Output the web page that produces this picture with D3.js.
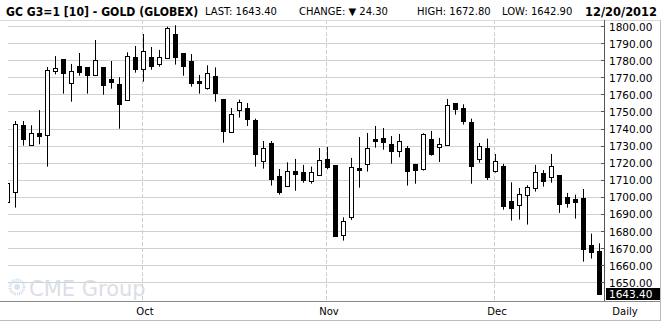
<!DOCTYPE html>
<html>
<head>
<meta charset="utf-8">
<script src="https://d3js.org/d3.v7.min.js"></script>
<style>
  body { margin: 0; background: #fff; }
  svg { display: block; }
  text { font-family: "DejaVu Sans", Verdana, sans-serif; }
</style>
</head>
<body>
<svg width="661" height="322"></svg>
<script>
// trading days shown (Sep 6 - Dec 20, 2012)
const dates = [
  "09-06","09-07","09-10","09-11","09-12","09-13","09-14","09-17","09-18","09-19","09-20","09-21",
  "09-24","09-25","09-26","09-27","09-28",
  "10-01","10-02","10-03","10-04","10-05","10-08","10-09","10-10","10-11","10-12","10-15","10-16",
  "10-17","10-18","10-19","10-22","10-23","10-24","10-25","10-26","10-29","10-30","10-31",
  "11-01","11-02","11-05","11-06","11-07","11-08","11-09","11-12","11-13","11-14","11-15","11-16",
  "11-19","11-20","11-21","11-23","11-26","11-27","11-28","11-29","11-30",
  "12-03","12-04","12-05","12-06","12-07","12-10","12-11","12-12","12-13","12-14","12-17","12-18",
  "12-19","12-20"
];
const open = [
  1696.8,1702.5,1741.9,1730.2,1737.2,1736.0,1773.5,1780.5,1766.5,1776.6,1776.0,1771.1,
  1776.0,1769.0,1766.1,1756.5,1781.9,
  1774.6,1781.9,1777.6,1781.1,1795.3,1784.2,1779.5,1767.8,1763.3,1770.7,1757.3,1737.8,
  1750.7,1752.0,1745.2,1720.8,1731.5,1712.2,1706.2,1715.2,1714.6,1709.1,1712.6,
  1722.0,1718.5,1677.5,1688.0,1716.9,1719.1,1733.9,1734.5,1730.8,1726.5,1728.6,1719.3,
  1716.1,1733.9,1729.4,1730.2,1754.7,1751.8,1743.6,1722.0,1728.6,
  1715.0,1718.1,1697.4,1695.1,1700.9,1705.0,1713.8,1711.4,1712.8,1699.7,1698.8,1699.4,
  1671.9,1668.5
];
const high = [
  1709.0,1744.4,1744.4,1741.9,1750.8,1776.0,1782.4,1780.5,1777.8,1784.2,1776.0,1791.8,
  1776.0,1779.5,1770.0,1784.6,1788.3,
  1795.3,1787.7,1786.0,1799.6,1800.4,1784.2,1783.6,1771.3,1777.0,1775.8,1757.3,1752.0,
  1756.9,1754.9,1745.8,1732.7,1732.7,1716.3,1720.2,1722.2,1718.7,1717.7,1728.6,
  1729.2,1718.5,1688.0,1722.8,1735.0,1737.4,1741.5,1740.3,1735.6,1736.8,1729.8,1719.3,
  1737.2,1738.6,1734.5,1757.3,1754.7,1754.2,1745.8,1731.5,1734.1,
  1725.1,1719.3,1708.5,1705.2,1706.8,1718.7,1715.7,1725.1,1712.8,1702.3,1701.3,1704.6,
  1678.5,1672.8
];
const low = [
  1694.0,1693.7,1730.0,1730.0,1730.8,1717.7,1771.7,1760.4,1755.7,1770.9,1760.4,1771.1,
  1759.8,1763.3,1739.9,1756.3,1772.7,
  1767.4,1774.4,1776.2,1781.0,1777.4,1770.9,1764.5,1760.4,1762.7,1755.7,1731.7,1737.6,
  1746.4,1741.5,1717.7,1716.5,1706.6,1701.3,1706.0,1703.6,1708.3,1707.7,1712.4,
  1716.1,1676.7,1674.4,1686.5,1705.4,1714.8,1728.8,1727.6,1719.4,1723.2,1706.6,1707.7,
  1715.4,1724.1,1720.4,1730.0,1748.1,1742.3,1707.7,1720.0,1709.9,
  1714.2,1692.5,1686.1,1686.7,1683.8,1703.1,1706.0,1708.3,1690.6,1693.7,1687.3,1662.1,
  1663.9,1642.9
];
const close = [
  1707.9,1742.5,1733.7,1737.2,1735.4,1774.1,1775.2,1772.3,1773.5,1773.3,1771.5,1779.9,
  1765.7,1767.4,1754.6,1782.3,1775.0,
  1785.2,1776.8,1781.9,1798.8,1782.1,1776.8,1766.5,1766.5,1772.3,1761.0,1738.8,1748.3,
  1755.3,1745.8,1725.3,1728.6,1710.7,1703.1,1715.0,1713.2,1710.1,1714.6,1721.4,
  1717.1,1676.7,1685.7,1717.5,1715.5,1728.6,1732.5,1732.3,1726.5,1732.5,1715.4,1715.9,
  1736.6,1725.3,1731.0,1753.6,1751.2,1744.2,1717.7,1729.6,1711.8,
  1720.8,1694.9,1693.1,1701.5,1705.6,1714.4,1708.9,1718.1,1696.0,1696.0,1697.2,1669.7,
  1667.7,1643.4
];
const priceTicks = [1800,1790,1780,1770,1760,1750,1740,1730,1720,1710,1700,1690,1680,1670,1660,1650];
const months = [["10-01","Oct"],["11-01","Nov"],["12-03","Dec"]];
const last = 1643.40;

const svg = d3.select('svg');
const plot = {left: 8, right: 604, top: 20, bottom: 301};

const x = d3.scaleBand().domain(dates).range([2.8, 602.8]).padding(0);
const y = d3.scaleLinear().domain([1650, 1800]).range([282.3, 26]);
const cx = d => Math.round(x(d) + x.bandwidth() / 2);

// header
const head = svg.append('g').attr('fill', '#000');
head.append('g').attr('transform', 'translate(6,16) scale(0.84,1)')
  .append('text').attr('font-size', 13).attr('font-weight', 'bold')
  .attr('font-family', 'Liberation Sans, Arial, sans-serif')
  .text('GC G3=1 [10] - GOLD (GLOBEX)');
const items = [[205, 'LAST: 1643.40'], [299, 'CHANGE: \u25BC 24.30'], [417, 'HIGH: 1672.80'], [502, 'LOW: 1642.90']];
items.forEach(([px, t]) => {
  head.append('text').attr('x', px).attr('y', 15).attr('font-size', 10)
    .attr('font-family', 'Liberation Sans, Arial, sans-serif').text(t);
});
head.append('g').attr('transform', 'translate(585,16) scale(0.88,1)')
  .append('text').attr('font-size', 13).attr('font-weight', 'bold')
  .attr('font-family', 'Liberation Sans, Arial, sans-serif')
  .text('12/20/2012');

// clip
svg.append('clipPath').attr('id', 'clip').append('rect')
  .attr('x', plot.left).attr('y', plot.top).attr('width', plot.right - plot.left).attr('height', plot.bottom - plot.top);

// grid
const grid = svg.append('g');
grid.selectAll('line.h').data(priceTicks).enter().append('line')
  .attr('x1', plot.left).attr('x2', plot.right)
  .attr('y1', d => Math.round(y(d)) + 0.5).attr('y2', d => Math.round(y(d)) + 0.5)
  .attr('stroke', '#cdd3cd').attr('stroke-width', 1);
grid.selectAll('line.v').data(months).enter().append('line')
  .attr('x1', d => cx(d[0]) - 0.5).attr('x2', d => cx(d[0]) - 0.5)
  .attr('y1', plot.top).attr('y2', plot.bottom)
  .attr('stroke', '#cfcfcf').attr('stroke-dasharray', '4,2');

// watermark
const wm = svg.append('g').attr('opacity', 0.9);
wm.append('circle').attr('cx', 17).attr('cy', 287).attr('r', 7)
  .attr('fill', 'none').attr('stroke', '#cbd9e8').attr('stroke-width', 3).attr('stroke-dasharray', '1,1');
wm.append('circle').attr('cx', 17).attr('cy', 287).attr('r', 3).attr('fill', '#d6e2ee');
wm.append('text').attr('x', 29).attr('y', 296).attr('font-size', 21)
  .attr('font-family', 'Liberation Sans, Arial, sans-serif')
  .attr('fill', '#d6dce4').text('CME Group');

// candles
const idx = d3.range(dates.length);
const candles = svg.append('g').attr('clip-path', 'url(#clip)');
const c = candles.selectAll('g').data(idx).enter().append('g');
c.append('line')
  .attr('x1', i => cx(dates[i]) + 0.5).attr('x2', i => cx(dates[i]) + 0.5)
  .attr('y1', i => y(high[i])).attr('y2', i => y(low[i]))
  .attr('stroke', '#000').attr('stroke-width', 1);
c.append('rect')
  .attr('x', i => cx(dates[i]) - 1.5)
  .attr('width', 4)
  .attr('y', i => Math.round(y(Math.max(open[i], close[i]))) + 0.5)
  .attr('height', i => Math.max(1, Math.round(Math.abs(y(open[i]) - y(close[i])))))
  .attr('fill', i => close[i] >= open[i] ? '#fff' : '#000')
  .attr('stroke', '#000').attr('stroke-width', 1);

// frame
svg.append('line').attr('x1', 0).attr('x2', 661).attr('y1', plot.top + 0.5).attr('y2', plot.top + 0.5)
  .attr('stroke', '#d8d8d8');
svg.append('line').attr('x1', plot.right + 0.5).attr('x2', plot.right + 0.5).attr('y1', plot.top).attr('y2', plot.bottom)
  .attr('stroke', '#555');
svg.append('line').attr('x1', 0).attr('x2', 661).attr('y1', plot.bottom + 0.5).attr('y2', plot.bottom + 0.5)
  .attr('stroke', '#888');
svg.append('line').attr('x1', 0).attr('x2', 661).attr('y1', 320.5).attr('y2', 320.5)
  .attr('stroke', '#bbb');
svg.append('line').attr('x1', 660.5).attr('x2', 660.5).attr('y1', plot.top).attr('y2', 321)
  .attr('stroke', '#bbb');

// right axis
const ax = svg.append('g');
ax.selectAll('line').data(priceTicks).enter().append('line')
  .attr('x1', plot.right - 3).attr('x2', plot.right)
  .attr('y1', d => Math.round(y(d)) + 0.5).attr('y2', d => Math.round(y(d)) + 0.5)
  .attr('stroke', '#555');
ax.selectAll('text').data(priceTicks).enter().append('text')
  .attr('x', 609).attr('y', d => y(d) + 4.5).attr('font-size', 10.5)
  .attr('fill', '#000').text(d => d.toFixed(2));

// last price marker
svg.append('rect').attr('x', 606).attr('y', 288).attr('width', 54).attr('height', 12)
  .attr('fill', '#000');
svg.append('text').attr('x', 609).attr('y', 298).attr('font-size', 10.5)
  .attr('fill', '#fff').text(last.toFixed(2));

// bottom axis labels
svg.selectAll('text.m').data(months).enter().append('text')
  .attr('x', d => cx(d[0]) + 2).attr('y', 315).attr('font-size', 10)
  .attr('text-anchor', 'middle').text(d => d[1]);
svg.append('text').attr('x', 625).attr('y', 315).attr('font-size', 10)
  .attr('text-anchor', 'middle').text('Daily');
</script>
</body>
</html>
